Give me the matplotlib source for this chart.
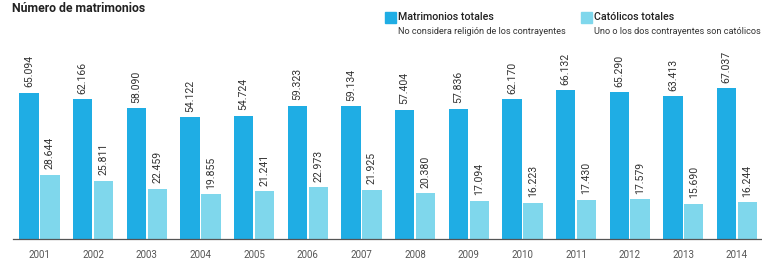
import matplotlib
matplotlib.use("Agg")
import matplotlib.pyplot as plt
import numpy as np

years = ["2001", "2002", "2003", "2004", "2005", "2006", "2007", "2008", "2009", "2010", "2011", "2012", "2013", "2014"]
totales = [65094, 62166, 58090, 54122, 54724, 59323, 59134, 57404, 57836, 62170, 66132, 65290, 63413, 67037]
catolicos = [28644, 25811, 22459, 19855, 21241, 22973, 21925, 20380, 17094, 16223, 17430, 17579, 15690, 16244]

DARK = "#1fade4"
LIGHT = "#7fd7ec"
TXT = "#333333"

plt.rcParams['font.family'] = ['Roboto', 'DejaVu Sans']

W, H = 762, 260
fig = plt.figure(figsize=(W / 100, H / 100), dpi=100)
fig.patch.set_facecolor("white")

ax_left, ax_right = 13, 762
ax_bottom, ax_top = 239, 20
ax = fig.add_axes([ax_left / W, (H - ax_bottom) / H, (ax_right - ax_left) / W, (ax_bottom - ax_top) / H])

scale = 146.3 / 65094  # px per unit
ax.set_ylim(0, (ax_bottom - ax_top) / scale)
spacing = (737 - 39.5) / 13
ax.set_xlim(-(39.5 - ax_left) / spacing, 13 + (ax_right - 737) / spacing)

x = np.arange(len(years))
w = 0.36
off = 0.195
b1 = ax.bar(x - off, totales, w, color=DARK, linewidth=0)
b2 = ax.bar(x + off, catolicos, w, color=LIGHT, linewidth=0)

def fmt(v):
    return f"{v:,}".replace(",", ".")

for bars, vals in ((b1, totales), (b2, catolicos)):
    for r, v in zip(bars, vals):
        ax.annotate(fmt(v), (r.get_x() + r.get_width() / 2, v), xytext=(0, 4),
                    textcoords="offset points", rotation=90, ha="center", va="bottom",
                    fontsize=7.6, color=TXT)

for s in ["top", "right", "left"]:
    ax.spines[s].set_visible(False)
ax.spines["bottom"].set_color("#555555")
ax.spines["bottom"].set_linewidth(0.9)
ax.set_yticks([])
ax.set_xticks(x)
ax.set_xticklabels(years, fontsize=7, color="#555555")
ax.tick_params(axis="x", length=0, pad=8)

fig.text(12 / W, 1 - 9 / H, "Número de matrimonios", fontsize=8.8, fontweight="bold",
         color="#222222", ha="left", va="center")

def legend_item(x0, color, title, sub):
    fig.patches.append(plt.Rectangle((x0 / W, 1 - 23 / H), 11 / W, 11 / H,
                                     transform=fig.transFigure, color=color, figure=fig))
    fig.text((x0 + 13) / W, 1 - 17.5 / H, title, fontsize=7.7, color="#222222",
             ha="left", va="center", fontweight="medium")
    fig.text((x0 + 13) / W, 1 - 31 / H, sub, fontsize=6.6, color="#333333",
             ha="left", va="center")

legend_item(385, DARK, "Matrimonios totales", "No considera religión de los contrayentes")
legend_item(581, LIGHT, "Católicos totales", "Uno o los dos contrayentes son católicos")

fig.savefig("out.png", dpi=100, facecolor="white")
